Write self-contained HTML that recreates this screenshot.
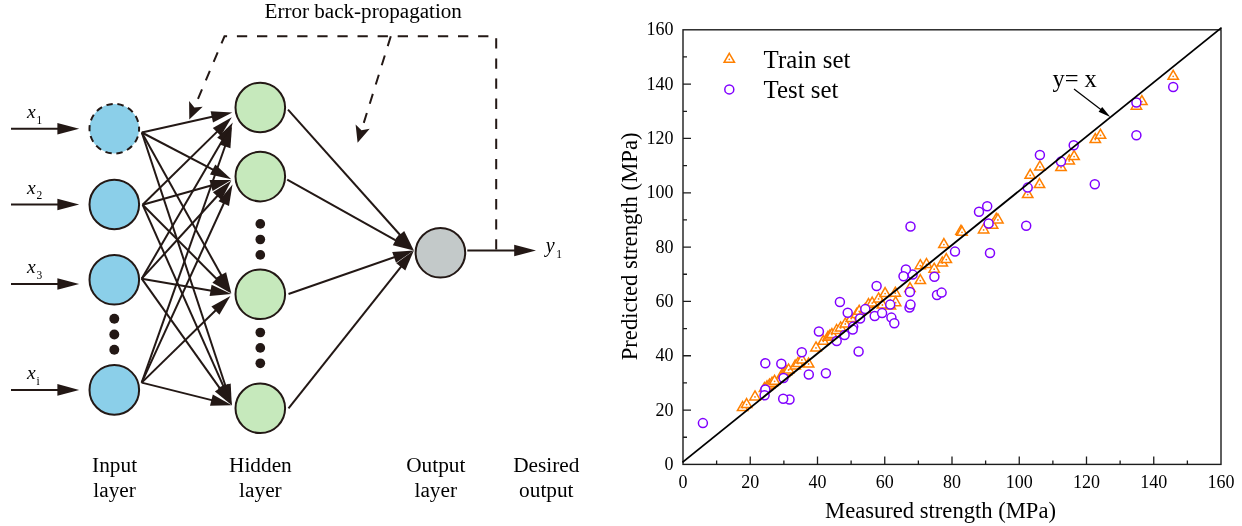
<!DOCTYPE html>
<html><head><meta charset="utf-8"><title>Figure</title>
<style>
html,body{margin:0;padding:0;background:#fff;}
svg{display:block;}
text{font-family:"Liberation Serif","Times New Roman",serif;fill:#000;}
</style></head>
<body>
<svg width="1242" height="526" viewBox="0 0 1242 526">
<rect width="1242" height="526" fill="#ffffff"/>
<line x1="141.8" y1="132.5" x2="220.0" y2="115.1" stroke="#231815" stroke-width="2.0"/>
<polygon points="232.3,112.4 213.0,122.6 210.6,111.3" fill="#231815"/>
<line x1="142.6" y1="204.7" x2="222.8" y2="126.1" stroke="#231815" stroke-width="2.0"/>
<polygon points="231.8,117.3 220.8,136.1 212.8,127.9" fill="#231815"/>
<line x1="141.7" y1="278.7" x2="226.4" y2="133.5" stroke="#231815" stroke-width="2.0"/>
<polygon points="232.8,122.6 227.2,143.6 217.2,137.8" fill="#231815"/>
<line x1="141.7" y1="382.6" x2="227.8" y2="138.5" stroke="#231815" stroke-width="2.0"/>
<polygon points="232.0,126.6 230.4,148.3 219.6,144.5" fill="#231815"/>
<line x1="141.8" y1="132.5" x2="220.1" y2="173.4" stroke="#231815" stroke-width="2.0"/>
<polygon points="231.3,179.2 210.0,174.6 215.3,164.4" fill="#231815"/>
<line x1="142.6" y1="204.7" x2="219.2" y2="183.3" stroke="#231815" stroke-width="2.0"/>
<polygon points="231.3,179.9 212.6,191.1 209.5,180.0" fill="#231815"/>
<line x1="141.7" y1="278.7" x2="222.8" y2="190.0" stroke="#231815" stroke-width="2.0"/>
<polygon points="231.3,180.7 221.4,200.1 212.9,192.3" fill="#231815"/>
<line x1="141.7" y1="382.6" x2="227.2" y2="196.0" stroke="#231815" stroke-width="2.0"/>
<polygon points="232.5,184.5 229.0,206.0 218.5,201.2" fill="#231815"/>
<line x1="141.8" y1="132.5" x2="225.2" y2="282.3" stroke="#231815" stroke-width="2.0"/>
<polygon points="231.3,293.3 216.1,277.7 226.1,272.2" fill="#231815"/>
<line x1="142.6" y1="204.7" x2="222.4" y2="284.7" stroke="#231815" stroke-width="2.0"/>
<polygon points="231.3,293.6 212.4,282.8 220.5,274.7" fill="#231815"/>
<line x1="141.7" y1="278.7" x2="218.9" y2="291.9" stroke="#231815" stroke-width="2.0"/>
<polygon points="231.3,294.0 209.6,296.1 211.6,284.8" fill="#231815"/>
<line x1="141.7" y1="382.6" x2="221.4" y2="304.7" stroke="#231815" stroke-width="2.0"/>
<polygon points="230.4,295.9 219.4,314.7 211.4,306.5" fill="#231815"/>
<line x1="141.8" y1="132.5" x2="227.9" y2="393.2" stroke="#231815" stroke-width="2.0"/>
<polygon points="231.8,405.2 219.8,387.1 230.7,383.5" fill="#231815"/>
<line x1="142.6" y1="204.7" x2="226.7" y2="393.7" stroke="#231815" stroke-width="2.0"/>
<polygon points="231.8,405.2 218.0,388.4 228.5,383.7" fill="#231815"/>
<line x1="141.7" y1="278.7" x2="224.5" y2="394.9" stroke="#231815" stroke-width="2.0"/>
<polygon points="231.8,405.2 214.9,391.4 224.3,384.8" fill="#231815"/>
<line x1="141.7" y1="382.6" x2="219.6" y2="402.1" stroke="#231815" stroke-width="2.0"/>
<polygon points="231.8,405.2 210.0,405.7 212.8,394.5" fill="#231815"/>
<line x1="288.0" y1="109.6" x2="405.5" y2="241.0" stroke="#231815" stroke-width="2.0"/>
<polygon points="413.9,250.4 395.6,238.6 404.2,230.9" fill="#231815"/>
<line x1="287.2" y1="179.7" x2="402.9" y2="244.3" stroke="#231815" stroke-width="2.0"/>
<polygon points="413.9,250.4 392.8,245.2 398.4,235.1" fill="#231815"/>
<line x1="288.5" y1="294.0" x2="402.0" y2="254.5" stroke="#231815" stroke-width="2.0"/>
<polygon points="413.9,250.4 396.0,262.7 392.2,251.9" fill="#231815"/>
<line x1="288.5" y1="408.3" x2="406.1" y2="260.3" stroke="#231815" stroke-width="2.0"/>
<polygon points="413.9,250.4 405.3,270.4 396.3,263.3" fill="#231815"/>
<line x1="11.0" y1="128.7" x2="66.1" y2="128.7" stroke="#231815" stroke-width="2.0"/>
<polygon points="79.2,128.7 57.4,134.5 57.4,122.9" fill="#231815"/>
<line x1="11.0" y1="204.5" x2="66.1" y2="204.5" stroke="#231815" stroke-width="2.0"/>
<polygon points="79.2,204.5 57.4,210.3 57.4,198.7" fill="#231815"/>
<line x1="11.0" y1="284.0" x2="66.1" y2="284.0" stroke="#231815" stroke-width="2.0"/>
<polygon points="79.2,284.0 57.4,289.8 57.4,278.2" fill="#231815"/>
<line x1="11.0" y1="389.9" x2="66.1" y2="389.9" stroke="#231815" stroke-width="2.0"/>
<polygon points="79.2,389.9 57.4,395.7 57.4,384.1" fill="#231815"/>
<line x1="467.3" y1="250.5" x2="522.9" y2="250.5" stroke="#231815" stroke-width="2.0"/>
<polygon points="536.0,250.5 514.2,256.3 514.2,244.7" fill="#231815"/>
<circle cx="114.3" cy="128.7" r="24.8" fill="#8bcfe9" stroke="#231815" stroke-width="2.0" stroke-dasharray="6.3 4.83" stroke-dashoffset="3.14"/>
<circle cx="114.3" cy="204.5" r="24.8" fill="#8bcfe9" stroke="#231815" stroke-width="2.0"/>
<circle cx="114.3" cy="279.8" r="24.8" fill="#8bcfe9" stroke="#231815" stroke-width="2.0"/>
<circle cx="114.3" cy="389.9" r="24.8" fill="#8bcfe9" stroke="#231815" stroke-width="2.0"/>
<circle cx="260.3" cy="107.5" r="24.8" fill="#c6e9bc" stroke="#231815" stroke-width="2.0"/>
<circle cx="260.3" cy="176.6" r="24.8" fill="#c6e9bc" stroke="#231815" stroke-width="2.0"/>
<circle cx="260.3" cy="294.3" r="24.8" fill="#c6e9bc" stroke="#231815" stroke-width="2.0"/>
<circle cx="260.3" cy="408.3" r="24.8" fill="#c6e9bc" stroke="#231815" stroke-width="2.0"/>
<circle cx="440.4" cy="252.8" r="24.8" fill="#c3c9c9" stroke="#231815" stroke-width="2.0"/>
<circle cx="114.3" cy="318.7" r="4.95" fill="#231815"/>
<circle cx="114.3" cy="334.5" r="4.95" fill="#231815"/>
<circle cx="114.3" cy="349.7" r="4.95" fill="#231815"/>
<circle cx="260.3" cy="223.9" r="4.85" fill="#231815"/>
<circle cx="260.3" cy="239.5" r="4.85" fill="#231815"/>
<circle cx="260.3" cy="254.9" r="4.85" fill="#231815"/>
<circle cx="260.3" cy="332.5" r="4.85" fill="#231815"/>
<circle cx="260.3" cy="347.9" r="4.85" fill="#231815"/>
<circle cx="260.3" cy="363.3" r="4.85" fill="#231815"/>
<polygon points="189.3,119.6 189.1,101.1 194.4,107.4 202.7,106.8" fill="#231815"/>
<polyline points="496.2,250.5 496.2,36.3 224.5,36.3 194.4,107.4" fill="none" stroke="#231815" stroke-width="2" stroke-dasharray="10.3 9.8" stroke-dashoffset="-0.9"/>
<polygon points="357.6,142.8 355.6,124.4 361.5,130.2 369.7,128.8" fill="#231815"/>
<line x1="390.8" y1="36.3" x2="361.5" y2="130.2" stroke="#231815" stroke-width="2" stroke-dasharray="10.3 9.8"/>
<text x="363.2" y="18.1" font-size="21.1" text-anchor="middle">Error back-propagation</text>
<text x="114.6" y="472.2" font-size="21.3" text-anchor="middle">Input</text>
<text x="114.6" y="497.0" font-size="21.3" text-anchor="middle">layer</text>
<text x="260.4" y="472.2" font-size="21.3" text-anchor="middle">Hidden</text>
<text x="260.4" y="497.0" font-size="21.3" text-anchor="middle">layer</text>
<text x="435.8" y="472.2" font-size="21.3" text-anchor="middle">Output</text>
<text x="435.8" y="497.0" font-size="21.3" text-anchor="middle">layer</text>
<text x="546.3" y="472.2" font-size="21.3" text-anchor="middle">Desired</text>
<text x="546.3" y="497.0" font-size="21.3" text-anchor="middle">output</text>
<text x="27.0" y="117.9" font-size="19.5" text-anchor="start" font-style="italic">x</text>
<text x="36.5" y="123.5" font-size="11.5" text-anchor="start">1</text>
<text x="27.0" y="193.7" font-size="19.5" text-anchor="start" font-style="italic">x</text>
<text x="36.5" y="199.3" font-size="11.5" text-anchor="start">2</text>
<text x="27.0" y="273.2" font-size="19.5" text-anchor="start" font-style="italic">x</text>
<text x="36.5" y="278.8" font-size="11.5" text-anchor="start">3</text>
<text x="27.0" y="379.1" font-size="19.5" text-anchor="start" font-style="italic">x</text>
<text x="36.5" y="384.7" font-size="11.5" text-anchor="start">i</text>
<text x="545.8" y="251.8" font-size="20" text-anchor="start" font-style="italic">y</text>
<text x="556.3" y="257.5" font-size="11.5" text-anchor="start">1</text>
<rect x="683.0" y="29.8" width="538.0" height="434.6" fill="none" stroke="#1c1c1c" stroke-width="1.4"/>
<path d="M716.62,464.40v-4.0M683.00,437.24h4.0M750.25,464.40v-8.0M683.00,410.07h8.0M783.88,464.40v-4.0M683.00,382.91h4.0M817.50,464.40v-8.0M683.00,355.75h8.0M851.12,464.40v-4.0M683.00,328.59h4.0M884.75,464.40v-8.0M683.00,301.43h8.0M918.38,464.40v-4.0M683.00,274.26h4.0M952.00,464.40v-8.0M683.00,247.10h8.0M985.62,464.40v-4.0M683.00,219.94h4.0M1019.25,464.40v-8.0M683.00,192.78h8.0M1052.88,464.40v-4.0M683.00,165.61h4.0M1086.50,464.40v-8.0M683.00,138.45h8.0M1120.12,464.40v-4.0M683.00,111.29h4.0M1153.75,464.40v-8.0M683.00,84.13h8.0M1187.38,464.40v-4.0M683.00,56.96h4.0" stroke="#1c1c1c" stroke-width="1.3" fill="none"/>
<text x="683.0" y="487.5" font-size="18" text-anchor="middle">0</text>
<text x="673.6" y="469.9" font-size="18" text-anchor="end">0</text>
<text x="750.2" y="487.5" font-size="18" text-anchor="middle">20</text>
<text x="673.6" y="415.6" font-size="18" text-anchor="end">20</text>
<text x="817.5" y="487.5" font-size="18" text-anchor="middle">40</text>
<text x="673.6" y="361.2" font-size="18" text-anchor="end">40</text>
<text x="884.8" y="487.5" font-size="18" text-anchor="middle">60</text>
<text x="673.6" y="306.9" font-size="18" text-anchor="end">60</text>
<text x="952.0" y="487.5" font-size="18" text-anchor="middle">80</text>
<text x="673.6" y="252.6" font-size="18" text-anchor="end">80</text>
<text x="1019.2" y="487.5" font-size="18" text-anchor="middle">100</text>
<text x="673.6" y="198.3" font-size="18" text-anchor="end">100</text>
<text x="1086.5" y="487.5" font-size="18" text-anchor="middle">120</text>
<text x="673.6" y="144.0" font-size="18" text-anchor="end">120</text>
<text x="1153.8" y="487.5" font-size="18" text-anchor="middle">140</text>
<text x="673.6" y="89.6" font-size="18" text-anchor="end">140</text>
<text x="1221.0" y="487.5" font-size="18" text-anchor="middle">160</text>
<text x="673.6" y="35.3" font-size="18" text-anchor="end">160</text>
<text x="940.5" y="518.1" font-size="22.6" text-anchor="middle">Measured strength (MPa)</text>
<text transform="translate(637.4,246.4) rotate(-90)" font-size="22.67" text-anchor="middle">Predicted strength (MPa)</text>
<g fill="#fff" stroke="#ff8000" stroke-width="1.5"><path d="M729.3,53.3l5.20,9.01h-10.40z"/></g><g fill="#ff8000"><circle cx="729.3" cy="59.3" r="0.9"/></g><g fill="#fff" stroke="#ff8000" stroke-width="1.5"><path d="M742.6,401.5l5.20,9.01h-10.40z"/></g><g fill="#ff8000"><circle cx="742.6" cy="407.5" r="0.9"/></g><g fill="#fff" stroke="#ff8000" stroke-width="1.5"><path d="M746.6,398.6l5.20,9.01h-10.40z"/></g><g fill="#ff8000"><circle cx="746.6" cy="404.6" r="0.9"/></g><g fill="#fff" stroke="#ff8000" stroke-width="1.5"><path d="M755.0,390.9l5.20,9.01h-10.40z"/></g><g fill="#ff8000"><circle cx="755.0" cy="396.9" r="0.9"/></g><g fill="#fff" stroke="#ff8000" stroke-width="1.5"><path d="M764.5,382.5l5.20,9.01h-10.40z"/></g><g fill="#ff8000"><circle cx="764.5" cy="388.5" r="0.9"/></g><g fill="#fff" stroke="#ff8000" stroke-width="1.5"><path d="M767.0,380.8l5.20,9.01h-10.40z"/></g><g fill="#ff8000"><circle cx="767.0" cy="386.8" r="0.9"/></g><g fill="#fff" stroke="#ff8000" stroke-width="1.5"><path d="M769.5,379.0l5.20,9.01h-10.40z"/></g><g fill="#ff8000"><circle cx="769.5" cy="385.0" r="0.9"/></g><g fill="#fff" stroke="#ff8000" stroke-width="1.5"><path d="M772.0,377.2l5.20,9.01h-10.40z"/></g><g fill="#ff8000"><circle cx="772.0" cy="383.2" r="0.9"/></g><g fill="#fff" stroke="#ff8000" stroke-width="1.5"><path d="M774.6,375.3l5.20,9.01h-10.40z"/></g><g fill="#ff8000"><circle cx="774.6" cy="381.3" r="0.9"/></g><g fill="#fff" stroke="#ff8000" stroke-width="1.5"><path d="M782.0,369.0l5.20,9.01h-10.40z"/></g><g fill="#ff8000"><circle cx="782.0" cy="375.0" r="0.9"/></g><g fill="#fff" stroke="#ff8000" stroke-width="1.5"><path d="M784.2,367.4l5.20,9.01h-10.40z"/></g><g fill="#ff8000"><circle cx="784.2" cy="373.4" r="0.9"/></g><g fill="#fff" stroke="#ff8000" stroke-width="1.5"><path d="M786.4,365.7l5.20,9.01h-10.40z"/></g><g fill="#ff8000"><circle cx="786.4" cy="371.7" r="0.9"/></g><g fill="#fff" stroke="#ff8000" stroke-width="1.5"><path d="M788.6,364.0l5.20,9.01h-10.40z"/></g><g fill="#ff8000"><circle cx="788.6" cy="370.0" r="0.9"/></g><g fill="#fff" stroke="#ff8000" stroke-width="1.5"><path d="M795.2,360.0l5.20,9.01h-10.40z"/></g><g fill="#ff8000"><circle cx="795.2" cy="366.0" r="0.9"/></g><g fill="#fff" stroke="#ff8000" stroke-width="1.5"><path d="M798.0,357.5l5.20,9.01h-10.40z"/></g><g fill="#ff8000"><circle cx="798.0" cy="363.5" r="0.9"/></g><g fill="#fff" stroke="#ff8000" stroke-width="1.5"><path d="M801.9,354.0l5.20,9.01h-10.40z"/></g><g fill="#ff8000"><circle cx="801.9" cy="360.0" r="0.9"/></g><g fill="#fff" stroke="#ff8000" stroke-width="1.5"><path d="M808.6,358.0l5.20,9.01h-10.40z"/></g><g fill="#ff8000"><circle cx="808.6" cy="364.0" r="0.9"/></g><g fill="#fff" stroke="#ff8000" stroke-width="1.5"><path d="M816.0,341.9l5.20,9.01h-10.40z"/></g><g fill="#ff8000"><circle cx="816.0" cy="347.9" r="0.9"/></g><g fill="#fff" stroke="#ff8000" stroke-width="1.5"><path d="M823.3,335.3l5.20,9.01h-10.40z"/></g><g fill="#ff8000"><circle cx="823.3" cy="341.3" r="0.9"/></g><g fill="#fff" stroke="#ff8000" stroke-width="1.5"><path d="M828.0,331.3l5.20,9.01h-10.40z"/></g><g fill="#ff8000"><circle cx="828.0" cy="337.3" r="0.9"/></g><g fill="#fff" stroke="#ff8000" stroke-width="1.5"><path d="M829.9,329.9l5.20,9.01h-10.40z"/></g><g fill="#ff8000"><circle cx="829.9" cy="335.9" r="0.9"/></g><g fill="#fff" stroke="#ff8000" stroke-width="1.5"><path d="M831.9,328.6l5.20,9.01h-10.40z"/></g><g fill="#ff8000"><circle cx="831.9" cy="334.6" r="0.9"/></g><g fill="#fff" stroke="#ff8000" stroke-width="1.5"><path d="M836.6,324.5l5.20,9.01h-10.40z"/></g><g fill="#ff8000"><circle cx="836.6" cy="330.5" r="0.9"/></g><g fill="#fff" stroke="#ff8000" stroke-width="1.5"><path d="M840.6,321.9l5.20,9.01h-10.40z"/></g><g fill="#ff8000"><circle cx="840.6" cy="327.9" r="0.9"/></g><g fill="#fff" stroke="#ff8000" stroke-width="1.5"><path d="M845.3,318.0l5.20,9.01h-10.40z"/></g><g fill="#ff8000"><circle cx="845.3" cy="324.0" r="0.9"/></g><g fill="#fff" stroke="#ff8000" stroke-width="1.5"><path d="M851.2,312.6l5.20,9.01h-10.40z"/></g><g fill="#ff8000"><circle cx="851.2" cy="318.6" r="0.9"/></g><g fill="#fff" stroke="#ff8000" stroke-width="1.5"><path d="M856.6,308.6l5.20,9.01h-10.40z"/></g><g fill="#ff8000"><circle cx="856.6" cy="314.6" r="0.9"/></g><g fill="#fff" stroke="#ff8000" stroke-width="1.5"><path d="M859.2,305.3l5.20,9.01h-10.40z"/></g><g fill="#ff8000"><circle cx="859.2" cy="311.3" r="0.9"/></g><g fill="#fff" stroke="#ff8000" stroke-width="1.5"><path d="M865.2,303.6l5.20,9.01h-10.40z"/></g><g fill="#ff8000"><circle cx="865.2" cy="309.6" r="0.9"/></g><g fill="#fff" stroke="#ff8000" stroke-width="1.5"><path d="M868.5,298.6l5.20,9.01h-10.40z"/></g><g fill="#ff8000"><circle cx="868.5" cy="304.6" r="0.9"/></g><g fill="#fff" stroke="#ff8000" stroke-width="1.5"><path d="M872.2,297.1l5.20,9.01h-10.40z"/></g><g fill="#ff8000"><circle cx="872.2" cy="303.1" r="0.9"/></g><g fill="#fff" stroke="#ff8000" stroke-width="1.5"><path d="M878.6,292.9l5.20,9.01h-10.40z"/></g><g fill="#ff8000"><circle cx="878.6" cy="298.9" r="0.9"/></g><g fill="#fff" stroke="#ff8000" stroke-width="1.5"><path d="M882.4,299.0l5.20,9.01h-10.40z"/></g><g fill="#ff8000"><circle cx="882.4" cy="305.0" r="0.9"/></g><g fill="#fff" stroke="#ff8000" stroke-width="1.5"><path d="M885.1,287.6l5.20,9.01h-10.40z"/></g><g fill="#ff8000"><circle cx="885.1" cy="293.6" r="0.9"/></g><g fill="#fff" stroke="#ff8000" stroke-width="1.5"><path d="M890.4,300.1l5.20,9.01h-10.40z"/></g><g fill="#ff8000"><circle cx="890.4" cy="306.1" r="0.9"/></g><g fill="#fff" stroke="#ff8000" stroke-width="1.5"><path d="M895.3,287.2l5.20,9.01h-10.40z"/></g><g fill="#ff8000"><circle cx="895.3" cy="293.2" r="0.9"/></g><g fill="#fff" stroke="#ff8000" stroke-width="1.5"><path d="M895.6,296.7l5.20,9.01h-10.40z"/></g><g fill="#ff8000"><circle cx="895.6" cy="302.7" r="0.9"/></g><g fill="#fff" stroke="#ff8000" stroke-width="1.5"><path d="M910.0,282.6l5.20,9.01h-10.40z"/></g><g fill="#ff8000"><circle cx="910.0" cy="288.6" r="0.9"/></g><g fill="#fff" stroke="#ff8000" stroke-width="1.5"><path d="M920.3,274.6l5.20,9.01h-10.40z"/></g><g fill="#ff8000"><circle cx="920.3" cy="280.6" r="0.9"/></g><g fill="#fff" stroke="#ff8000" stroke-width="1.5"><path d="M920.3,259.7l5.20,9.01h-10.40z"/></g><g fill="#ff8000"><circle cx="920.3" cy="265.7" r="0.9"/></g><g fill="#fff" stroke="#ff8000" stroke-width="1.5"><path d="M926.5,258.5l5.20,9.01h-10.40z"/></g><g fill="#ff8000"><circle cx="926.5" cy="264.5" r="0.9"/></g><g fill="#fff" stroke="#ff8000" stroke-width="1.5"><path d="M934.2,263.2l5.20,9.01h-10.40z"/></g><g fill="#ff8000"><circle cx="934.2" cy="269.2" r="0.9"/></g><g fill="#fff" stroke="#ff8000" stroke-width="1.5"><path d="M942.3,257.0l5.20,9.01h-10.40z"/></g><g fill="#ff8000"><circle cx="942.3" cy="263.0" r="0.9"/></g><g fill="#fff" stroke="#ff8000" stroke-width="1.5"><path d="M943.9,238.6l5.20,9.01h-10.40z"/></g><g fill="#ff8000"><circle cx="943.9" cy="244.6" r="0.9"/></g><g fill="#fff" stroke="#ff8000" stroke-width="1.5"><path d="M946.3,253.6l5.20,9.01h-10.40z"/></g><g fill="#ff8000"><circle cx="946.3" cy="259.6" r="0.9"/></g><g fill="#fff" stroke="#ff8000" stroke-width="1.5"><path d="M961.0,225.3l5.20,9.01h-10.40z"/></g><g fill="#ff8000"><circle cx="961.0" cy="231.3" r="0.9"/></g><g fill="#fff" stroke="#ff8000" stroke-width="1.5"><path d="M962.0,226.3l5.20,9.01h-10.40z"/></g><g fill="#ff8000"><circle cx="962.0" cy="232.3" r="0.9"/></g><g fill="#fff" stroke="#ff8000" stroke-width="1.5"><path d="M983.6,223.9l5.20,9.01h-10.40z"/></g><g fill="#ff8000"><circle cx="983.6" cy="229.9" r="0.9"/></g><g fill="#fff" stroke="#ff8000" stroke-width="1.5"><path d="M992.6,219.3l5.20,9.01h-10.40z"/></g><g fill="#ff8000"><circle cx="992.6" cy="225.3" r="0.9"/></g><g fill="#fff" stroke="#ff8000" stroke-width="1.5"><path d="M996.3,213.3l5.20,9.01h-10.40z"/></g><g fill="#ff8000"><circle cx="996.3" cy="219.3" r="0.9"/></g><g fill="#fff" stroke="#ff8000" stroke-width="1.5"><path d="M997.9,213.9l5.20,9.01h-10.40z"/></g><g fill="#ff8000"><circle cx="997.9" cy="219.9" r="0.9"/></g><g fill="#fff" stroke="#ff8000" stroke-width="1.5"><path d="M1027.7,188.6l5.20,9.01h-10.40z"/></g><g fill="#ff8000"><circle cx="1027.7" cy="194.6" r="0.9"/></g><g fill="#fff" stroke="#ff8000" stroke-width="1.5"><path d="M1030.2,169.3l5.20,9.01h-10.40z"/></g><g fill="#ff8000"><circle cx="1030.2" cy="175.3" r="0.9"/></g><g fill="#fff" stroke="#ff8000" stroke-width="1.5"><path d="M1039.5,178.6l5.20,9.01h-10.40z"/></g><g fill="#ff8000"><circle cx="1039.5" cy="184.6" r="0.9"/></g><g fill="#fff" stroke="#ff8000" stroke-width="1.5"><path d="M1039.9,161.0l5.20,9.01h-10.40z"/></g><g fill="#ff8000"><circle cx="1039.9" cy="167.0" r="0.9"/></g><g fill="#fff" stroke="#ff8000" stroke-width="1.5"><path d="M1061.0,161.5l5.20,9.01h-10.40z"/></g><g fill="#ff8000"><circle cx="1061.0" cy="167.5" r="0.9"/></g><g fill="#fff" stroke="#ff8000" stroke-width="1.5"><path d="M1069.2,154.9l5.20,9.01h-10.40z"/></g><g fill="#ff8000"><circle cx="1069.2" cy="160.9" r="0.9"/></g><g fill="#fff" stroke="#ff8000" stroke-width="1.5"><path d="M1074.1,150.6l5.20,9.01h-10.40z"/></g><g fill="#ff8000"><circle cx="1074.1" cy="156.6" r="0.9"/></g><g fill="#fff" stroke="#ff8000" stroke-width="1.5"><path d="M1095.3,133.6l5.20,9.01h-10.40z"/></g><g fill="#ff8000"><circle cx="1095.3" cy="139.6" r="0.9"/></g><g fill="#fff" stroke="#ff8000" stroke-width="1.5"><path d="M1100.5,129.3l5.20,9.01h-10.40z"/></g><g fill="#ff8000"><circle cx="1100.5" cy="135.3" r="0.9"/></g><g fill="#fff" stroke="#ff8000" stroke-width="1.5"><path d="M1136.4,100.2l5.20,9.01h-10.40z"/></g><g fill="#ff8000"><circle cx="1136.4" cy="106.2" r="0.9"/></g><g fill="#fff" stroke="#ff8000" stroke-width="1.5"><path d="M1141.9,95.6l5.20,9.01h-10.40z"/></g><g fill="#ff8000"><circle cx="1141.9" cy="101.6" r="0.9"/></g><g fill="#fff" stroke="#ff8000" stroke-width="1.5"><path d="M1173.2,70.3l5.20,9.01h-10.40z"/></g><g fill="#ff8000"><circle cx="1173.2" cy="76.3" r="0.9"/></g>
<g fill="#fff" stroke="#8000ff" stroke-width="1.5"><circle cx="702.9" cy="423.1" r="4.5"/><circle cx="765.3" cy="363.3" r="4.5"/><circle cx="781.3" cy="363.7" r="4.5"/><circle cx="765.3" cy="389.5" r="4.5"/><circle cx="764.6" cy="395.3" r="4.5"/><circle cx="783.5" cy="378.0" r="4.5"/><circle cx="789.5" cy="399.5" r="4.5"/><circle cx="783.2" cy="398.7" r="4.5"/><circle cx="808.8" cy="374.5" r="4.5"/><circle cx="825.9" cy="373.2" r="4.5"/><circle cx="801.8" cy="352.3" r="4.5"/><circle cx="818.9" cy="331.5" r="4.5"/><circle cx="839.9" cy="302.0" r="4.5"/><circle cx="847.7" cy="312.8" r="4.5"/><circle cx="836.7" cy="341.0" r="4.5"/><circle cx="844.6" cy="335.1" r="4.5"/><circle cx="853.2" cy="326.6" r="4.5"/><circle cx="852.7" cy="329.6" r="4.5"/><circle cx="860.1" cy="318.5" r="4.5"/><circle cx="865.3" cy="309.1" r="4.5"/><circle cx="874.7" cy="316.0" r="4.5"/><circle cx="882.1" cy="313.1" r="4.5"/><circle cx="858.6" cy="351.5" r="4.5"/><circle cx="876.6" cy="286.0" r="4.5"/><circle cx="890.2" cy="304.6" r="4.5"/><circle cx="891.4" cy="317.6" r="4.5"/><circle cx="894.3" cy="323.3" r="4.5"/><circle cx="909.9" cy="292.0" r="4.5"/><circle cx="909.5" cy="307.6" r="4.5"/><circle cx="910.5" cy="304.6" r="4.5"/><circle cx="912.6" cy="274.6" r="4.5"/><circle cx="905.9" cy="269.5" r="4.5"/><circle cx="903.5" cy="276.3" r="4.5"/><circle cx="934.4" cy="276.7" r="4.5"/><circle cx="937.0" cy="295.0" r="4.5"/><circle cx="941.6" cy="292.6" r="4.5"/><circle cx="910.5" cy="226.5" r="4.5"/><circle cx="955.0" cy="251.6" r="4.5"/><circle cx="990.0" cy="253.0" r="4.5"/><circle cx="987.2" cy="206.2" r="4.5"/><circle cx="979.0" cy="211.7" r="4.5"/><circle cx="988.6" cy="223.5" r="4.5"/><circle cx="1039.9" cy="155.0" r="4.5"/><circle cx="1027.7" cy="187.6" r="4.5"/><circle cx="1061.0" cy="161.6" r="4.5"/><circle cx="1073.7" cy="145.3" r="4.5"/><circle cx="1094.8" cy="184.2" r="4.5"/><circle cx="1026.2" cy="225.7" r="4.5"/><circle cx="1136.4" cy="102.5" r="4.5"/><circle cx="1136.4" cy="135.3" r="4.5"/><circle cx="1173.2" cy="87.0" r="4.5"/><circle cx="729.3" cy="89.4" r="4.5"/></g>
<line x1="682.4" y1="462.4" x2="1221.6" y2="27.6" stroke="#000" stroke-width="1.85"/>
<text x="763.6" y="67.7" font-size="24.85" text-anchor="start">Train set</text>
<text x="763.6" y="97.7" font-size="24.85" text-anchor="start">Test set</text>
<text x="1052.4" y="87.0" font-size="24.5" text-anchor="start">y= x</text>
<line x1="1074.0" y1="89.0" x2="1103.4" y2="111.6" stroke="#000" stroke-width="1.2"/>
<polygon points="1110.3,116.9 1098.6,111.7 1102.2,106.9" fill="#000"/>
</svg>
</body></html>
